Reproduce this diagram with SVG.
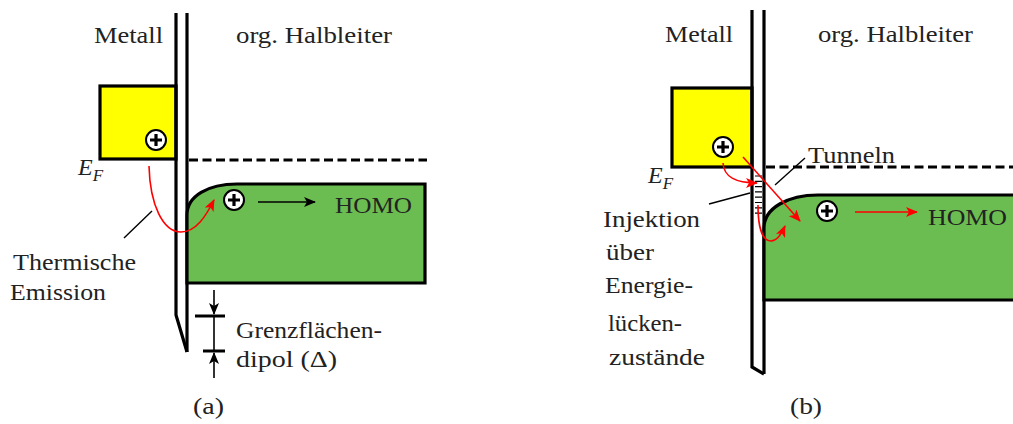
<svg xmlns="http://www.w3.org/2000/svg" width="1013" height="424" viewBox="0 0 1013 424">
  <style>
    .txt { font-family: "Liberation Serif", serif; font-size: 24px; fill: #222; }
    .it { font-style: italic; }
    .wall { fill: none; stroke: #000; stroke-width: 3.2; stroke-linejoin: miter; }
    .metal { fill: #ffff00; stroke: #000; stroke-width: 3.2; }
    .band { fill: #6cbd51; stroke: #000; stroke-width: 3.2; }
    .fermi { fill: none; stroke: #000; stroke-width: 3; stroke-dasharray: 9 4.5; }
    .hole circle { fill: #fff; stroke: #000; stroke-width: 2; }
    .hole path { stroke: #000; stroke-width: 3.2; fill: none; }
    .red { fill: none; stroke: #ff0000; stroke-width: 1.6; }
    .blk { fill: none; stroke: #000; stroke-width: 1.6; }
    .lead { fill: none; stroke: #000; stroke-width: 1.4; }
    .bar { fill: none; stroke: #000; stroke-width: 3; }
    .tick { fill: none; stroke: #000; stroke-width: 1.2; }
  </style>
  <defs>
    <marker id="ahRed" viewBox="0 0 12 10" refX="11" refY="5" markerWidth="12" markerHeight="10" markerUnits="userSpaceOnUse" orient="auto">
      <path d="M0,0 L12,5 L0,10 L3,5 Z" fill="#ff0000"/>
    </marker>
    <marker id="ahBlk" viewBox="0 0 12 10" refX="11" refY="5" markerWidth="12" markerHeight="10" markerUnits="userSpaceOnUse" orient="auto">
      <path d="M0,0 L12,5 L0,10 L3,5 Z" fill="#000"/>
    </marker>
    <g id="plus" class="hole">
      <circle r="10"/>
      <path d="M-6,0 H6 M0,-6 V6"/>
    </g>
  </defs>

  <!-- ===== left panel: thermal emission ===== -->
  <g id="panel-a" font-family="Liberation Serif">
    <g id="metal-a">
      <rect class="metal" x="100" y="86" width="76" height="73"/>
      <text class="txt" x="94" y="43" textLength="69" lengthAdjust="spacingAndGlyphs">Metall</text>
      <text class="txt it" x="78" y="175">E<tspan font-size="17" dy="6">F</tspan></text>
    </g>
    <g id="interface-a">
      <path class="wall" d="M176,13 V315 L187,352"/>
      <path class="wall" d="M187,13 V352"/>
    </g>
    <g id="semi-a">
      <text class="txt" x="236" y="43" textLength="156" lengthAdjust="spacingAndGlyphs">org. Halbleiter</text>
      <path class="fermi" d="M189,160 H427"/>
      <path class="band" d="M187,283 V215 C187,196 208,184 237,184 H425 V283 Z"/>
      <text class="txt" x="335" y="213" textLength="77" lengthAdjust="spacingAndGlyphs">HOMO</text>
    </g>
    <use href="#plus" x="156" y="140"/>
    <use href="#plus" x="234" y="200"/>
    <g id="dipole-a">
      <path class="bar" d="M195,316 H225 M203,351 H225"/>
      <path class="blk" d="M214,316 V351"/>
      <path class="blk" d="M214,290 V314" marker-end="url(#ahBlk)"/>
      <path class="blk" d="M214,378 V353" marker-end="url(#ahBlk)"/>
      <text class="txt" x="236" y="338" textLength="146" lengthAdjust="spacingAndGlyphs">Grenzflächen-</text>
      <text class="txt" x="236" y="367" textLength="101" lengthAdjust="spacingAndGlyphs">dipol (Δ)</text>
    </g>
    <g id="label-thermal">
      <text class="txt" x="13" y="270" textLength="123" lengthAdjust="spacingAndGlyphs">Thermische</text>
      <text class="txt" x="10" y="300" textLength="96" lengthAdjust="spacingAndGlyphs">Emission</text>
    </g>
    <text class="txt" x="193" y="414" textLength="31" lengthAdjust="spacingAndGlyphs">(a)</text>
  </g>

  <!-- ===== right panel: tunnelling via gap states ===== -->
  <g id="panel-b" font-family="Liberation Serif">
    <g id="metal-b">
      <rect class="metal" x="672" y="88" width="80" height="79"/>
      <text class="txt" x="665" y="42" textLength="68" lengthAdjust="spacingAndGlyphs">Metall</text>
      <text class="txt it" x="648" y="183">E<tspan font-size="17" dy="6">F</tspan></text>
    </g>
    <g id="interface-b">
      <path class="wall" d="M752,10 V367 L764,374"/>
      <path class="wall" d="M764,10 V374"/>
      <path class="tick" d="M755,176 H762 M755,181.3 H762 M755,186.6 H762 M755,191.9 H762 M755,197.2 H762 M755,202.5 H762 M755,207.8 H762 M755,213.1 H762"/>
    </g>
    <g id="semi-b">
      <text class="txt" x="818" y="42" textLength="155" lengthAdjust="spacingAndGlyphs">org. Halbleiter</text>
      <path class="fermi" d="M766,167 H1013"/>
      <path class="band" d="M764,300 V228 C764,208 788,195 818,195 H1016 V300 Z"/>
      <text class="txt" x="928" y="225" textLength="79" lengthAdjust="spacingAndGlyphs">HOMO</text>
    </g>
    <use href="#plus" x="723" y="147"/>
    <use href="#plus" x="827" y="211"/>
    <g id="label-tunnel">
      <text class="txt" x="808" y="163" textLength="87" lengthAdjust="spacingAndGlyphs">Tunneln</text>
    </g>
    <g id="label-gapstates">
      <text class="txt" x="603" y="227" textLength="97" lengthAdjust="spacingAndGlyphs">Injektion</text>
      <text class="txt" x="606" y="260" textLength="48" lengthAdjust="spacingAndGlyphs">über</text>
      <text class="txt" x="605" y="293" textLength="88" lengthAdjust="spacingAndGlyphs">Energie-</text>
      <text class="txt" x="608" y="331" textLength="74" lengthAdjust="spacingAndGlyphs">lücken-</text>
      <text class="txt" x="609" y="365" textLength="96" lengthAdjust="spacingAndGlyphs">zustände</text>
    </g>
    <text class="txt" x="790" y="414" textLength="32" lengthAdjust="spacingAndGlyphs">(b)</text>
  </g>

  <!-- ===== connectors ===== -->
  <g id="connectors">
    <path class="red" d="M149,166 C150,205 163,232 181,232 C196,232 206,216 214,200" marker-end="url(#ahRed)"/>
    <path class="blk" d="M258,202 H315" marker-end="url(#ahBlk)"/>
    <path class="lead" d="M124,238 L152,211"/>

    <path class="red" d="M723,163 C724,177 735,183 757,183" marker-end="url(#ahRed)"/>
    <path class="red" d="M743,157 L800,221" marker-end="url(#ahRed)"/>
    <path class="red" d="M758,205 C758,226 762,241 771,241 C777,241 781,235 785,226" marker-end="url(#ahRed)"/>
    <path class="red" d="M855,212 H917" marker-end="url(#ahRed)"/>
    <path class="lead" d="M775,185 L805,158"/>
    <path class="lead" d="M709,204 L750,193"/>
  </g>
</svg>
